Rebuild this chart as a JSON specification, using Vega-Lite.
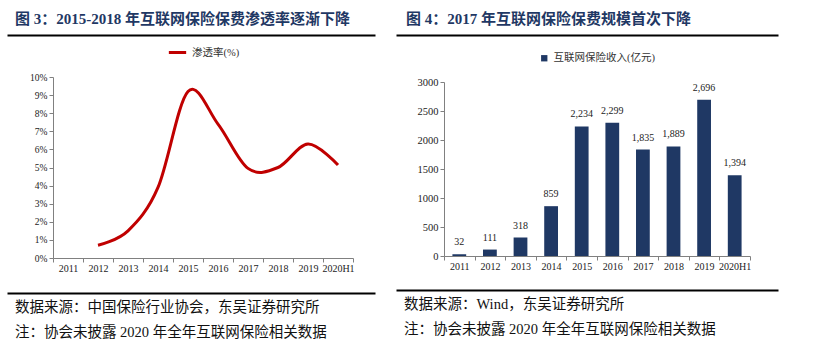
{
  "$schema": "https://vega.github.io/schema/vega-lite/v6.json",
  "padding": {"left": 7, "top": 12, "right": 0, "bottom": 0},
  "background": "white",
  "spacing": -25,
  "resolve": {"scale": {"color": "independent"}, "legend": {"color": "independent"}},
  "config": {
    "font": "Liberation Serif, Noto Sans CJK SC",
    "view": {"stroke": null},
    "axis": {"labelFont": "Liberation Serif, Noto Sans CJK SC", "labelColor": "#222", "domainColor": "#808080", "tickColor": "#808080", "grid": false, "labelFontSize": 10},
    "legend": {"labelFont": "Liberation Serif, Noto Sans CJK SC", "labelColor": "#333", "layout": {"top": {"anchor": "middle"}}},
    "title": {"font": "Liberation Serif, Noto Sans CJK SC"}
  },
  "datasets": {
    "rate": [
      {"year": "2012", "rate": 0.007, "series": "渗透率(%)"},
      {"year": "2013", "rate": 0.015, "series": "渗透率(%)"},
      {"year": "2014", "rate": 0.039, "series": "渗透率(%)"},
      {"year": "2015", "rate": 0.092, "series": "渗透率(%)"},
      {"year": "2016", "rate": 0.074, "series": "渗透率(%)"},
      {"year": "2017", "rate": 0.0495, "series": "渗透率(%)"},
      {"year": "2018", "rate": 0.050, "series": "渗透率(%)"},
      {"year": "2019", "rate": 0.063, "series": "渗透率(%)"},
      {"year": "2020H1", "rate": 0.0514, "series": "渗透率(%)"}
    ],
    "income": [
      {"year": "2011", "income": 32, "series": "互联网保险收入(亿元)"},
      {"year": "2012", "income": 111, "series": "互联网保险收入(亿元)"},
      {"year": "2013", "income": 318, "series": "互联网保险收入(亿元)"},
      {"year": "2014", "income": 859, "series": "互联网保险收入(亿元)"},
      {"year": "2015", "income": 2234, "series": "互联网保险收入(亿元)"},
      {"year": "2016", "income": 2299, "series": "互联网保险收入(亿元)"},
      {"year": "2017", "income": 1835, "series": "互联网保险收入(亿元)"},
      {"year": "2018", "income": 1889, "series": "互联网保险收入(亿元)"},
      {"year": "2019", "income": 2696, "series": "互联网保险收入(亿元)"},
      {"year": "2020H1", "income": 1394, "series": "互联网保险收入(亿元)"}
    ],
    "one": [{"k": 0}]
  },
  "hconcat": [
    {
      "spacing": 7,
      "resolve": {"scale": {"color": "independent"}, "legend": {"color": "independent"}},
      "vconcat": [
        {
          "width": 322,
          "height": 1,
          "title": {"text": "图 3：2015-2018 年互联网保险保费渗透率逐渐下降", "anchor": "start", "dx": 8, "fontSize": 15, "fontWeight": "bold", "color": "#1F3864", "offset": 7},
          "data": {"name": "one"},
          "mark": {"type": "rule", "opacity": 0},
          "encoding": {
            "x": {"field": "k", "type": "quantitative", "scale": {"domain": [0, 1], "range": [-46, 322]},
              "axis": {"orient": "bottom", "domain": true, "domainColor": "black", "domainWidth": 2, "ticks": false, "labels": false, "title": null}}
          }
        },
        {
          "width": 300,
          "height": 181,
          "data": {"name": "rate"},
          "mark": {"type": "line", "interpolate": "cardinal", "strokeWidth": 3},
          "encoding": {
            "x": {"field": "year", "type": "ordinal",
              "scale": {"domain": ["2011", "2012", "2013", "2014", "2015", "2016", "2017", "2018", "2019", "2020H1"], "paddingInner": 0, "paddingOuter": 0},
              "axis": {"title": null, "labelAngle": 0, "tickBand": "extent", "tickSize": 4, "labelPadding": 1}},
            "y": {"field": "rate", "type": "quantitative",
              "scale": {"domain": [0, 0.1]},
              "axis": {"title": null, "format": ".0%", "values": [0, 0.01, 0.02, 0.03, 0.04, 0.05, 0.06, 0.07, 0.08, 0.09, 0.1], "tickSize": 4, "labelFontSize": 9.5}},
            "color": {"field": "series", "type": "nominal",
              "scale": {"domain": ["渗透率(%)"], "range": ["#C00000"]},
              "legend": {"title": null, "orient": "top", "labelFontSize": 10.5, "symbolStrokeWidth": 3, "symbolSize": 300, "offset": 18}}
          }
        },
        {
          "width": 322,
          "height": 13,
          "title": {"text": ["数据来源：中国保险行业协会，东吴证券研究所", "注：协会未披露 2020 年全年互联网保险相关数据"], "orient": "bottom", "anchor": "start", "dx": 8, "fontSize": 14.5, "fontWeight": "normal", "color": "#111", "lineHeight": 25, "offset": 8, "baseline": "top"},
          "data": {"name": "one"},
          "mark": {"type": "rule", "opacity": 0},
          "encoding": {
            "x": {"field": "k", "type": "quantitative", "scale": {"domain": [0, 1], "range": [-46, 322]},
              "axis": {"orient": "bottom", "domain": true, "domainColor": "black", "domainWidth": 2, "ticks": false, "labels": false, "title": null}}
          }
        }
      ]
    },
    {
      "spacing": 7,
      "resolve": {"scale": {"color": "independent"}, "legend": {"color": "independent"}},
      "vconcat": [
        {
          "width": 334,
          "height": 1,
          "title": {"text": "图 4：2017 年互联网保险保费规模首次下降", "anchor": "start", "dx": 10, "fontSize": 15, "fontWeight": "bold", "color": "#1F3864", "offset": 7},
          "data": {"name": "one"},
          "mark": {"type": "rule", "opacity": 0},
          "encoding": {
            "x": {"field": "k", "type": "quantitative", "scale": {"domain": [0, 1], "range": [-48, 334]},
              "axis": {"orient": "bottom", "domain": true, "domainColor": "black", "domainWidth": 2, "ticks": false, "labels": false, "title": null}}
          }
        },
        {
          "width": 306,
          "height": 174,
          "data": {"name": "income"},
          "encoding": {
            "x": {"field": "year", "type": "ordinal",
              "scale": {"domain": ["2011", "2012", "2013", "2014", "2015", "2016", "2017", "2018", "2019", "2020H1"], "paddingInner": 0, "paddingOuter": 0},
              "axis": {"title": null, "labelAngle": 0, "tickBand": "extent", "tickSize": 4, "labelPadding": 1}},
            "y": {"field": "income", "type": "quantitative",
              "scale": {"domain": [0, 3000]},
              "axis": {"title": null, "format": "d", "values": [0, 500, 1000, 1500, 2000, 2500, 3000], "tickSize": 4, "labelFontSize": 10.5}}
          },
          "layer": [
            {
              "mark": {"type": "bar", "width": {"band": 0.45}},
              "encoding": {
                "color": {"field": "series", "type": "nominal",
                  "scale": {"domain": ["互联网保险收入(亿元)"], "range": ["#1F3864"]},
                  "legend": {"title": null, "orient": "top", "labelFontSize": 10.5, "symbolType": "square", "symbolSize": 40, "offset": 7, "padding": 11}}
              }
            },
            {
              "mark": {"type": "text", "baseline": "bottom", "dy": -7, "fontSize": 10, "color": "#222"},
              "encoding": {"text": {"field": "income", "type": "quantitative", "format": ","}}
            }
          ]
        },
        {
          "width": 334,
          "height": 12,
          "title": {"text": ["数据来源：Wind，东吴证券研究所", "注：协会未披露 2020 年全年互联网保险相关数据"], "orient": "bottom", "anchor": "start", "dx": 8, "fontSize": 14.5, "fontWeight": "normal", "color": "#111", "lineHeight": 25, "offset": 8, "baseline": "top"},
          "data": {"name": "one"},
          "mark": {"type": "rule", "opacity": 0},
          "encoding": {
            "x": {"field": "k", "type": "quantitative", "scale": {"domain": [0, 1], "range": [-48, 334]},
              "axis": {"orient": "bottom", "domain": true, "domainColor": "black", "domainWidth": 2, "ticks": false, "labels": false, "title": null}}
          }
        }
      ]
    }
  ]
}
